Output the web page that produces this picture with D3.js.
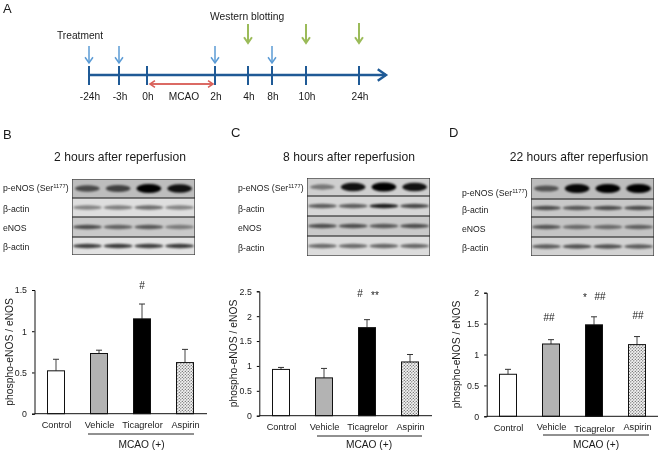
<!DOCTYPE html>
<html><head><meta charset="utf-8">
<script src="https://cdnjs.cloudflare.com/ajax/libs/d3/7.8.5/d3.min.js"></script>
<style>html,body{margin:0;padding:0;background:#fff}svg{display:block;filter:blur(0.35px)}text{font-family:"Liberation Sans",Arial,sans-serif;fill:#1a1a1a}</style>
</head><body><svg id="c" width="660" height="454"></svg>
<script>
// ---- data ----
const categories = ["Control","Vehicle","Ticagrelor","Aspirin"];
const valuesB = [0.52,0.73,1.15,0.62], errTopB = [0.66,0.77,1.33,0.78];
const valuesC = [0.93,0.76,1.77,1.08], errTopC = [0.97,0.95,1.93,1.23];
const valuesD = [0.68,1.17,1.48,1.16], errTopD = [0.76,1.24,1.61,1.29];
const ticksB = [0,0.5,1,1.5], ticksC = [0,0.5,1,1.5,2,2.5], ticksD = [0,0.5,1,1.5,2];
const timeLabels = ["-24h","-3h","0h","2h","4h","8h","10h","24h"];
const timePositions = [0,1,2,4,5,6,7,8];
const blotRowLabels = ["p-eNOS (Ser","β-actin","eNOS","β-actin"];
const blotB = [[.6,.65,1,.9],[.4,.42,.5,.4],[.6,.5,.55,.38],[.7,.72,.7,.72]];
const blotC = [[.42,.9,1,.9],[.55,.55,.85,.65],[.6,.6,.55,.6],[.5,.5,.52,.52]];
const blotD = [[.55,.95,1,.98],[.6,.55,.6,.6],[.55,.45,.45,.5],[.55,.6,.6,.55]];
// ---- layout ----
const svg = d3.select("#c");
const defs = svg.append("defs");
defs.append("filter").attr("id","soft").attr("x","-20%").attr("y","-60%").attr("width","140%").attr("height","220%")
  .append("feGaussianBlur").attr("stdDeviation","1.3 0.9");
const pat = defs.append("pattern").attr("id","dots").attr("width",3).attr("height",3).attr("patternUnits","userSpaceOnUse");
pat.append("rect").attr("width",3).attr("height",3).attr("fill","#f2f2f2");
pat.append("circle").attr("cx",0.8).attr("cy",0.8).attr("r",0.65).attr("fill","#555");
pat.append("circle").attr("cx",2.3).attr("cy",2.3).attr("r",0.65).attr("fill","#555");
const fills = ["#fff","#b3b3b3","#000","url(#dots)"];
const t = (s,x,y,size,anchor)=>svg.append("text").attr("x",x).attr("y",y).attr("font-size",size).attr("text-anchor",anchor||"start").text(s);

// Panel A
t("A",3,12.5,13);
const tx = d3.scaleLinear().domain([0,1,2,4,5,6,7,8]).range([89,119,147,215,248,272,306,359]);
const arrow=(x1,y1,x2,y2,color,w,head)=>{
  const g=svg.append("g").attr("stroke",color).attr("fill","none").attr("stroke-width",w);
  g.append("line").attr("x1",x1).attr("y1",y1).attr("x2",x2).attr("y2",y2);
  const a=Math.atan2(y2-y1,x2-x1),h=head;
  g.append("path").attr("d",d3.line()([[x2-h*Math.cos(a-.6),y2-h*Math.sin(a-.6)],[x2,y2],[x2-h*Math.cos(a+.6),y2-h*Math.sin(a+.6)]]));
};
arrow(89,75,386,75,"#1f5a96",2.4,10);
timePositions.forEach((p,i)=>{
  svg.append("line").attr("x1",tx(p)).attr("x2",tx(p)).attr("y1",66).attr("y2",85).attr("stroke","#1f5a96").attr("stroke-width",2);
  t(timeLabels[i],tx(p)+1,100,10.2,"middle");
});
[0,1,4,6].forEach(p=>arrow(tx(p),46,tx(p),63,"#5b9bd5",1.5,7));
[5,7,8].forEach(p=>arrow(tx(p),p==8?23:24,tx(p),43,"#9bbb59",2,7));
arrow(150,84,213,84,"#d9605a",1.6,6);arrow(213,84,150,84,"#d9605a",1.6,6);
t("MCAO",184,100,10.2,"middle");
t("Treatment",57,39,10.2);
t("Western blotting",210,20,10.3);

// Panels
const panels=[
 {letter:"B",lx:3,ly:138.5,title:"2 hours after reperfusion",tx:120,ty:161,
  blot:blotB,bx:[72,195],by:[179,198,217,237,255],lblx:3,bg:["#bdbdbd","#dedede","#c9c9c9","#e2e2e2"],rowY:[191,212,231,250],
  vals:valuesB,errs:errTopB,ticks:ticksB,yMax:1.5,ax:34.5,y0:413.7,yt:290,c0:56,c3:185,xEnd:207,ylx:12.5,
  lblY:[428,428,428,428],line:[88,194,434],mc:141.5,notes:[["#",142,289]]},
 {letter:"C",lx:231,ly:137,title:"8 hours after reperfusion",tx:349,ty:161,
  blot:blotC,bx:[307,430],by:[178,196,216,236,256],lblx:238,bg:["#cfcfcf","#d6d6d6","#c9c9c9","#dcdcdc"],rowY:[191,212,231,251],
  vals:valuesC,errs:errTopC,ticks:ticksC,yMax:2.5,ax:259.3,y0:415.7,yt:291.3,c0:281,c3:410,xEnd:432,ylx:236.5,
  lblY:[430,430,430,430],line:[317,422,436],mc:369,notes:[["#",360,297],["**",375,299]]},
 {letter:"D",lx:449,ly:137,title:"22 hours after reperfusion",tx:579,ty:161,
  blot:blotD,bx:[531,654],by:[178,199,217,237,256],lblx:462,bg:["#bdbdbd","#c8c8c8","#c4c4c4","#d2d2d2"],rowY:[196,213,232,251],
  vals:valuesD,errs:errTopD,ticks:ticksD,yMax:2,ax:486.7,y0:416.3,yt:292.7,c0:508,c3:637,xEnd:658,ylx:459.5,
  lblY:[431,430,432,430],line:[543,649,435],mc:596,notes:[["##",549,321],["*",585,301],["##",600,300],["##",638,319]]}
];
panels.forEach((p,pi)=>{
  t(p.letter,p.lx,p.ly,13);
  t(p.title,p.tx,p.ty,12.1,"middle");
  // blot
  const [x0,x1]=p.bx, lane=d3.scaleBand().domain(categories).range([x0,x1]);
  p.blot.forEach((row,r)=>{
    const y0=p.by[r],y1=p.by[r+1],cy=(y0+y1)/2;
    const id=`clip${pi}${r}`;
    defs.append("clipPath").attr("id",id).append("rect").attr("x",x0).attr("y",y0).attr("width",x1-x0).attr("height",y1-y0);
    const g=svg.append("g").attr("clip-path",`url(#${id})`);
    g.append("rect").attr("x",x0).attr("y",y0).attr("width",x1-x0).attr("height",y1-y0).attr("fill",p.bg[r]);
    const g2=g.append("g").attr("filter","url(#soft)");
    row.forEach((d,i)=>{
      g2.append("ellipse").attr("cx",lane(categories[i])+lane.bandwidth()/2).attr("cy",cy)
        .attr("rx",lane.bandwidth()*(r==0?.4:.47)).attr("ry",r==0?(1.2+d*3.4):2.2)
        .attr("fill","#000").attr("opacity",Math.min(1,d*1.02));
    });
    g.append("rect").attr("x",x0).attr("y",y0).attr("width",x1-x0).attr("height",y1-y0).attr("fill","none").attr("stroke","#333").attr("stroke-width",1.2);
    const lab=t(blotRowLabels[r],p.lblx,p.rowY[r],8.7);
    if(r==0){
      lab.append("tspan").attr("font-size",5.8).attr("dy",-3).text("1177");
      lab.append("tspan").attr("font-size",8.7).attr("dy",3).text(")");
    }
  });
  // chart
  const y=d3.scaleLinear().domain([0,p.yMax]).range([p.y0,p.yt]);
  const x=d3.scalePoint().domain(categories).range([p.c0,p.c3]);
  const bw=17;
  const g=svg.append("g");
  p.vals.forEach((v,i)=>{
    const cx=x(categories[i]);
    g.append("line").attr("x1",cx).attr("x2",cx).attr("y1",y(v)).attr("y2",y(p.errs[i])).attr("stroke","#444").attr("stroke-width",1);
    g.append("line").attr("x1",cx-3).attr("x2",cx+3).attr("y1",y(p.errs[i])).attr("y2",y(p.errs[i])).attr("stroke","#333").attr("stroke-width",1);
    g.append("rect").attr("x",cx-bw/2).attr("y",y(v)).attr("width",bw).attr("height",y(0)-y(v)).attr("fill",fills[i]).attr("stroke","#111").attr("stroke-width",1);
  });
  const ya=svg.append("g").attr("transform",`translate(${p.ax},0)`)
    .call(d3.axisLeft(y).tickValues(p.ticks).tickSize(2.5).tickPadding(5).tickFormat(d=>d));
  ya.select(".domain").attr("stroke","#111").attr("stroke-width",1);
  ya.selectAll("text").attr("font-size",8.8).style("font-family",'"Liberation Sans",Arial,sans-serif').attr("fill","#1a1a1a");
  const xa=svg.append("g").attr("transform",`translate(0,${p.y0})`)
    .call(d3.axisBottom(x).tickSize(0).tickPadding(0));
  xa.select(".domain").attr("d",`M${p.ax},0H${p.xEnd}`).attr("stroke","#111").attr("stroke-width",1);
  xa.selectAll("text").attr("font-size",9.2).attr("fill","#1a1a1a").style("font-family",'"Liberation Sans",Arial,sans-serif')
    .attr("dy",null).attr("y",(d,i)=>p.lblY[i]-p.y0).style("dominant-baseline","auto");
  svg.append("text").attr("transform",`translate(${p.ylx},${(p.y0+p.yt)/2}) rotate(-90)`).attr("font-size",10.3).attr("text-anchor","middle").text("phospho-eNOS / eNOS");
  svg.append("line").attr("x1",p.line[0]).attr("x2",p.line[1]).attr("y1",p.line[2]).attr("y2",p.line[2]).attr("stroke","#222").attr("stroke-width",1);
  t("MCAO (+)",p.mc,448,10.2,"middle");
  p.notes.forEach(n=>t(n[0],n[1],n[2],10,"middle"));
});
</script></body></html>
